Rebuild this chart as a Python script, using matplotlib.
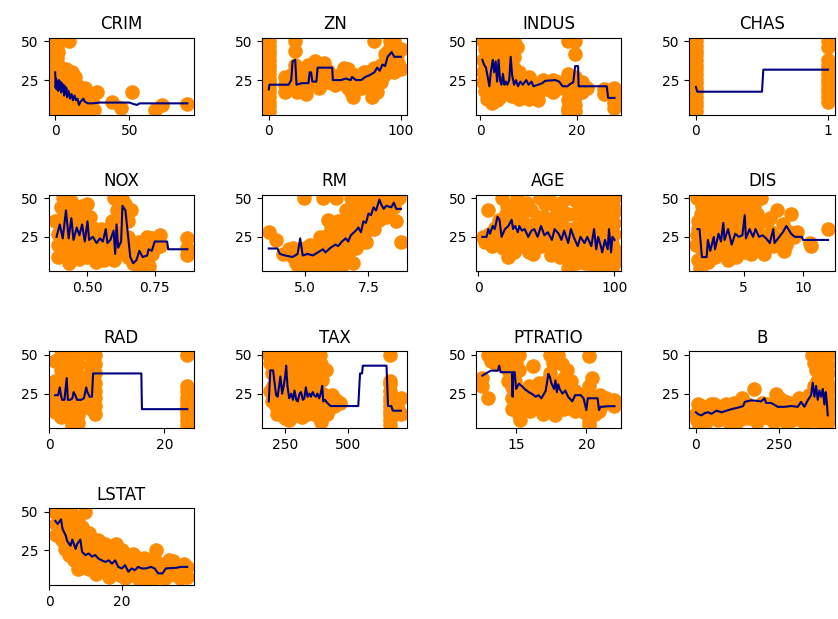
import matplotlib
matplotlib.use("Agg")
import matplotlib.pyplot as plt
from matplotlib.ticker import MaxNLocator

# --- values (feature value, MEDV) ---
features = ["CRIM", "ZN", "INDUS", "CHAS", "NOX", "RM", "AGE",
            "DIS", "RAD", "TAX", "PTRATIO", "B", "LSTAT"]

crim_pts = [(0, 5), (0, 9), (0, 13), (0, 17), (0, 21), (0, 25), (0, 29), (0, 33), (0, 37),
            (0, 41), (0, 45), (0, 50), (1, 7), (1, 15), (1, 23), (1, 31), (1, 39), (1, 47),
            (2, 11), (2, 19), (2, 27), (2, 35), (2, 43), (9.5, 50), (3.5, 8), (3.5, 16),
            (3.5, 24), (3.5, 32), (5, 12), (5, 20), (5, 28), (6, 6), (6.5, 16), (6.5, 24),
            (7, 32), (8, 10), (8, 19), (8.5, 27), (9.5, 6), (10, 15), (10, 23), (11, 30),
            (12, 10), (12, 19), (13, 27), (14, 6), (14, 14), (15, 22), (16, 10), (17, 17),
            (18, 6), (19, 12), (20, 20), (21, 8), (22, 14), (24, 7), (25, 12), (26, 6),
            (28, 17), (38, 11), (44, 7), (52, 17), (67, 6), (72, 9), (89, 9.5)]
crim_line = [(0.0, 30), (0.3, 20), (0.6, 26), (1, 19), (1.5, 24), (2, 18), (2.5, 25), (3, 19),
             (3.5, 24), (4, 17), (4.5, 23), (5, 18), (5.5, 22), (6, 15), (6.5, 21), (7, 16),
             (7.5, 20), (8, 14), (9, 18), (10, 13), (11, 16), (12, 12), (13, 15), (14, 12),
             (15, 13), (16, 9), (17, 11), (18, 12), (19, 13), (20, 11), (22, 10), (25, 10),
             (30, 10.5), (40, 10.5), (50, 10.5), (53, 9.5), (55, 9), (57, 10), (70, 10), (89, 10)]

zn_pts = [(0, 5), (0, 8), (0, 11), (0, 14), (0, 17), (0, 20), (0, 23), (0, 26), (0, 29),
          (0, 32), (0, 35), (0, 38), (0, 41), (0, 44), (0, 47), (0, 50), (12.5, 17),
          (12.5, 22), (12.5, 27), (15, 25), (17.5, 29), (20, 50), (20, 44), (20, 35),
          (20, 23), (21, 17), (22, 21), (25, 20), (25, 26), (27, 30), (28, 16), (30, 28),
          (30, 35), (33, 24), (34, 31), (35, 37), (35, 28), (38, 20), (40, 33), (40, 27),
          (42, 36), (45, 31), (45, 24), (48, 28), (50, 22), (52, 25), (55, 23), (55, 29),
          (57, 33), (60, 20), (60, 27), (60, 32), (62, 17), (64, 14), (65, 28), (67, 22),
          (70, 24), (70, 20), (72, 30), (75, 25), (75, 30), (77, 20), (78, 14), (80, 21),
          (80, 33), (80, 50), (82, 17), (82, 30), (85, 24), (85, 35), (87, 28), (88, 42),
          (90, 35), (90, 44), (92, 38), (92, 50), (95, 30), (95, 50), (97, 41), (98, 36),
          (100, 32), (100, 45)]
zn_line = [(0, 19), (0.5, 22), (15, 22), (17, 25), (18, 37), (20, 38), (21, 22), (25, 23),
           (30, 23), (31, 30), (32, 30), (33, 24), (36, 24), (37, 33), (48, 33), (48.5, 25),
           (55, 25), (58, 26), (62, 25), (63, 27), (66, 25), (70, 25), (73, 27), (76, 28),
           (80, 30), (82, 33), (84, 31), (86, 35), (88, 34), (90, 40), (93, 43), (95, 40),
           (100, 40)]

indus_pts = [(0.5, 50), (1, 45), (1.5, 50), (2, 50), (2.5, 50), (3, 50), (3.5, 50), (4, 50),
             (5, 50), (6, 50), (7, 50), (7.5, 46), (0.5, 38), (0.5, 30), (0.5, 24), (1, 33),
             (1, 26), (1, 18), (1.5, 38), (1.5, 13), (2, 30), (2, 22), (2, 18), (2.5, 42),
             (2.5, 10), (3, 35), (3, 25), (3, 17), (3.5, 30), (3.5, 12), (4, 40), (4, 22),
             (4, 14), (4.5, 45), (5, 36), (5, 28), (5, 18), (5.5, 25), (5.5, 42), (6, 40),
             (6, 30), (6, 21), (6.5, 15), (6.5, 47), (7, 33), (7, 24), (7, 18), (7, 40),
             (7.5, 28), (8, 20), (8, 13), (8, 30), (9, 25), (9, 16), (10, 27), (10, 19),
             (10, 13), (11, 23), (12, 17), (12, 12), (13, 25), (13.5, 19), (14, 22), (15, 25),
             (15, 17), (16, 20), (16, 24), (18.1, 50), (19.6, 50), (19.6, 42), (18.1, 29),
             (18.1, 23), (18.1, 17), (18.1, 12), (18.1, 7), (18.1, 5), (19.6, 27), (19.6, 20),
             (19.6, 14), (19.6, 9), (19.6, 5), (21, 17), (21, 24), (22, 20), (25.6, 19),
             (25.6, 16), (27.7, 20), (27.7, 15), (27.7, 10), (27.7, 7)]
indus_line = [(0.46, 38), (0.8, 35), (1.2, 33), (1.5, 28), (1.9, 21), (2.2, 30), (2.6, 38),
              (2.9, 30), (3.2, 37), (3.5, 24), (3.8, 38), (4.1, 25), (4.4, 22), (4.7, 29),
              (5, 22), (5.3, 24), (5.6, 22), (6, 25), (6.3, 40), (6.6, 28), (7, 22), (7.4, 25),
              (7.8, 21), (8.3, 24), (8.8, 22), (9.5, 25), (10, 22), (10.6, 24), (11, 21),
              (12, 22), (12.8, 23), (13.4, 24.5), (15.5, 25), (16.3, 24), (17, 21), (18, 21),
              (18.8, 23), (19.2, 23.5), (19.6, 34), (20.2, 34), (20.3, 21), (24, 21),
              (26.1, 21), (26.4, 13.5), (27.7, 13.5)]

chas_pts = [(0, 5), (0, 8), (0, 11), (0, 14), (0, 17), (0, 20), (0, 23), (0, 26), (0, 29),
            (0, 32), (0, 35), (0, 38), (0, 41), (0, 44), (0, 47), (0, 50), (1, 11), (1, 14),
            (1, 17), (1, 20), (1, 23), (1, 26), (1, 29), (1, 32), (1, 35), (1, 38), (1, 46),
            (1, 50)]
chas_line = [(0, 20.5), (0.01, 17.5), (0.5, 17.5), (0.51, 31.7), (1, 31.7)]

nox_pts = [(0.38, 35), (0.39, 12), (0.39, 20), (0.39, 27), (0.40, 33), (0.40, 44), (0.41, 50),
           (0.41, 42), (0.42, 23), (0.42, 37), (0.43, 15), (0.43, 8), (0.43, 29), (0.44, 48),
           (0.44, 40), (0.44, 20), (0.45, 33), (0.45, 24), (0.46, 17), (0.46, 25), (0.47, 41),
           (0.47, 11), (0.47, 28), (0.48, 22), (0.48, 45), (0.49, 14), (0.49, 35), (0.50, 46),
           (0.50, 26), (0.50, 12), (0.51, 19), (0.51, 38), (0.52, 31), (0.52, 23), (0.53, 15),
           (0.53, 9), (0.54, 27), (0.54, 20), (0.55, 24), (0.55, 30), (0.56, 17), (0.56, 10),
           (0.57, 22), (0.57, 27), (0.58, 30), (0.58, 13), (0.59, 19), (0.59, 35), (0.60, 50),
           (0.60, 10), (0.61, 42), (0.61, 22), (0.62, 15), (0.62, 28), (0.62, 38), (0.63, 50),
           (0.64, 46), (0.64, 20), (0.65, 25), (0.65, 12), (0.65, 35), (0.66, 17), (0.66, 42),
           (0.67, 8), (0.67, 22), (0.68, 14), (0.69, 22), (0.69, 5), (0.70, 12), (0.70, 20),
           (0.71, 17), (0.72, 10), (0.72, 25), (0.73, 6), (0.74, 24), (0.74, 14), (0.75, 18),
           (0.77, 26), (0.77, 19), (0.87, 24), (0.87, 18), (0.87, 13)]
nox_line = [(0.385, 25), (0.397, 33), (0.408, 24), (0.42, 42), (0.43, 24), (0.44, 37),
            (0.448, 23), (0.46, 31), (0.47, 26), (0.48, 33), (0.49, 22), (0.50, 35),
            (0.506, 23), (0.52, 25), (0.534, 21), (0.546, 24), (0.557, 22), (0.568, 30),
            (0.574, 21), (0.585, 23), (0.597, 29), (0.603, 14), (0.608, 33), (0.614, 18),
            (0.625, 22), (0.63, 45), (0.641, 42), (0.653, 22), (0.659, 12), (0.67, 8),
            (0.682, 10), (0.693, 16), (0.705, 12), (0.722, 13), (0.727, 17), (0.739, 16),
            (0.75, 22), (0.796, 22), (0.80, 17), (0.871, 17)]

rm_pts = [(3.56, 28), (3.86, 23), (4.14, 14), (4.37, 17), (4.5, 18), (4.52, 12), (4.63, 8),
          (4.7, 6), (4.88, 11), (4.97, 50), (5.0, 18), (5.0, 5), (5.1, 12), (5.2, 8), (5.2, 20),
          (5.3, 17), (5.4, 13), (5.4, 10), (5.5, 20), (5.5, 6), (5.5, 9), (5.6, 15), (5.6, 25),
          (5.7, 50), (5.7, 22), (5.8, 13), (5.8, 8), (5.9, 19), (5.9, 36), (5.9, 26), (6.0, 12),
          (6.0, 7), (6.0, 21), (6.0, 32), (6.1, 27), (6.1, 17), (6.2, 50), (6.2, 24), (6.2, 10),
          (6.3, 20), (6.3, 30), (6.3, 35), (6.4, 14), (6.4, 5), (6.4, 25), (6.5, 33), (6.5, 22),
          (6.5, 15), (6.6, 18), (6.6, 28), (6.6, 42), (6.7, 38), (6.7, 24), (6.7, 12),
          (6.8, 50), (6.8, 30), (6.9, 22), (6.9, 8), (6.9, 30), (7.0, 36), (7.0, 26), (7.0, 18),
          (7.1, 44), (7.1, 36), (7.2, 32), (7.2, 24), (7.3, 50), (7.3, 37), (7.4, 22),
          (7.4, 29), (7.4, 45), (7.5, 45), (7.6, 35), (7.6, 42), (7.7, 50), (7.7, 30),
          (7.8, 41), (7.9, 50), (7.9, 36), (8.0, 38), (8.0, 44), (8.1, 50), (8.2, 38),
          (8.3, 42), (8.3, 48), (8.4, 50), (8.5, 44), (8.6, 35), (8.7, 50), (8.78, 22)]
rm_line = [(3.56, 17.5), (3.9, 17.5), (4.0, 14), (4.2, 13), (4.5, 12), (4.7, 14), (4.8, 24),
           (4.9, 13), (5.1, 14), (5.3, 13), (5.5, 15), (5.7, 17), (5.8, 15), (6.0, 18),
           (6.2, 20), (6.3, 19), (6.45, 22), (6.6, 24), (6.7, 22), (6.8, 26), (7.0, 29),
           (7.1, 31), (7.2, 28), (7.3, 35), (7.4, 34), (7.5, 40), (7.6, 39), (7.7, 44),
           (7.8, 42), (7.93, 49), (8.0, 46), (8.1, 43), (8.2, 45), (8.4, 44), (8.5, 47),
           (8.6, 43), (8.78, 43)]

age_pts = [(3, 25), (5, 22), (7, 42), (8, 27), (10, 19), (12, 31), (14, 24), (15, 36),
           (17, 50), (18, 18), (20, 29), (20, 40), (21, 45), (22, 12), (23, 22), (25, 35),
           (26, 15), (27, 43), (28, 50), (29, 26), (30, 20), (31, 40), (32, 36), (33, 19),
           (34, 30), (35, 26), (36, 47), (37, 15), (38, 23), (39, 42), (40, 14), (41, 33),
           (42, 20), (43, 27), (44, 38), (45, 50), (46, 19), (47, 28), (48, 38), (49, 46),
           (50, 24), (51, 33), (52, 50), (53, 13), (54, 19), (55, 29), (56, 38), (57, 44),
           (58, 20), (59, 27), (60, 33), (60, 12), (61, 47), (62, 16), (63, 25), (64, 31),
           (65, 50), (66, 40), (66, 5), (67, 18), (68, 11), (69, 22), (70, 40), (71, 31),
           (72, 48), (72, 8), (73, 25), (74, 18), (75, 27), (75, 14), (76, 46), (77, 38),
           (78, 8), (78, 33), (79, 50), (80, 23), (81, 40), (82, 14), (82, 28), (83, 33),
           (84, 44), (85, 5), (85, 36), (86, 20), (86, 12), (87, 27), (88, 50), (88, 40),
           (88, 5), (89, 12), (90, 37), (90, 30), (91, 7), (91, 18), (92, 24), (93, 17),
           (93, 40), (94, 46), (94, 8), (95, 10), (95, 24), (96, 30), (97, 50), (97, 35),
           (98, 5), (98, 21), (99, 14), (99, 45), (100, 50), (100, 41), (100, 34), (100, 27),
           (100, 12), (100, 8), (100, 17)]
age_line = [(2.9, 25), (6, 25), (7.3, 30), (8.5, 27), (10.5, 32), (12, 30), (14, 38),
            (15.5, 36), (17, 25), (19.5, 30), (22, 32), (24.4, 36), (25.5, 30), (27, 32),
            (29, 28), (30, 32), (32, 29), (34, 30), (36.6, 25), (39, 29), (41, 30), (43.5, 25),
            (46, 32), (48.5, 26), (51, 28), (54, 23), (56, 30), (59, 27), (61, 23), (63, 29),
            (66, 21), (68, 30), (70, 25), (73, 19), (75, 25), (78, 21), (80, 25), (83, 19),
            (85, 30), (86.6, 17), (88, 25), (90, 19), (91, 15), (93, 23), (95, 17), (96, 30),
            (97.5, 15), (98.5, 25), (100, 23)]

dis_pts = [(1.0, 20), (1.1, 26), (1.1, 50), (1.2, 10), (1.2, 30), (1.2, 35), (1.3, 5),
           (1.4, 40), (1.4, 18), (1.5, 7), (1.5, 45), (1.6, 25), (1.7, 13), (1.7, 50),
           (1.8, 33), (1.9, 20), (2.0, 9), (2.0, 38), (2.1, 44), (2.2, 28), (2.3, 16),
           (2.3, 48), (2.4, 36), (2.5, 22), (2.6, 12), (2.6, 41), (2.7, 50), (2.8, 30),
           (2.9, 36), (3.0, 19), (3.1, 42), (3.2, 26), (3.3, 45), (3.4, 14), (3.4, 38),
           (3.5, 50), (3.6, 33), (3.7, 10), (3.8, 22), (3.9, 32), (4.0, 45), (4.1, 17),
           (4.2, 40), (4.3, 29), (4.4, 12), (4.5, 50), (4.6, 37), (4.6, 25), (4.8, 21),
           (5.0, 15), (5.0, 45), (5.2, 30), (5.3, 38), (5.4, 50), (5.5, 24), (5.6, 14),
           (5.7, 40), (5.9, 45), (6.0, 19), (6.1, 40), (6.2, 33), (6.4, 26), (6.5, 50),
           (6.7, 14), (6.9, 22), (7.0, 35), (7.2, 37), (7.3, 28), (7.5, 19), (7.7, 25),
           (7.8, 42), (8.0, 24), (8.3, 33), (8.4, 16), (8.6, 20), (8.8, 28), (9.0, 40),
           (9.2, 25), (9.5, 28), (10.6, 21), (10.7, 19), (12.1, 30)]
dis_line = [(1.13, 30), (1.3, 30), (1.5, 12), (1.9, 12), (2.0, 23), (2.2, 16), (2.5, 25),
            (2.6, 17), (2.9, 27), (3.1, 22), (3.3, 34), (3.4, 23), (3.7, 30), (4.0, 20),
            (4.3, 27), (4.6, 25), (4.9, 26), (5.1, 39), (5.2, 24), (5.5, 30), (5.8, 25),
            (6.0, 30), (6.3, 25), (6.6, 26), (6.9, 24), (7.2, 21), (7.5, 30), (7.6, 21),
            (8.0, 25), (8.3, 28), (8.6, 32), (9.0, 27), (9.3, 25), (9.9, 25), (10.0, 23),
            (12.1, 23)]

rad_pts = [(1, 13), (1, 17), (1, 21), (1, 25), (1, 29), (1, 33), (1, 46), (2, 10), (2, 14),
           (2, 19), (2, 24), (2, 29), (2, 34), (2, 40), (2, 46), (2, 50), (3, 12), (3, 17),
           (3, 22), (3, 27), (3, 33), (3, 38), (3, 44), (3, 50), (4, 5), (4, 9), (4, 14),
           (4, 19), (4, 24), (4, 29), (4, 35), (4, 42), (4, 50), (5, 6), (5, 11), (5, 16),
           (5, 21), (5, 26), (5, 31), (5, 37), (5, 44), (5, 50), (6, 17), (6, 21), (6, 25),
           (6, 30), (6, 35), (7, 16), (7, 21), (7, 26), (7, 33), (7, 43), (7, 50), (8, 12),
           (8, 17), (8, 22), (8, 27), (8, 32), (8, 38), (8, 44), (8, 50), (24, 5), (24, 8),
           (24, 11), (24, 14), (24, 17), (24, 20), (24, 23), (24, 27), (24, 30), (24, 50)]
rad_line = [(1, 24), (1.5, 24), (1.8, 29), (2, 24), (2.2, 21), (2.6, 21), (3, 35), (3.2, 21),
            (3.6, 21), (4, 22), (4.2, 26), (4.5, 24), (4.8, 21), (5, 21), (5.5, 21), (6, 22),
            (6.4, 29), (6.6, 26), (7, 23), (7.4, 23), (7.6, 38), (16, 38), (16.1, 15), (24, 15)]

tax_pts = [(188, 50), (190, 27), (193, 45), (198, 38), (200, 20), (202, 47), (205, 30),
           (210, 24), (212, 40), (215, 17), (218, 33), (220, 12), (224, 50), (226, 23),
           (230, 42), (233, 34), (235, 48), (237, 26), (240, 12), (242, 20), (245, 14),
           (248, 35), (250, 9), (252, 25), (254, 48), (256, 17), (258, 38), (262, 30),
           (264, 45), (266, 22), (268, 8), (270, 15), (273, 33), (276, 10), (278, 40),
           (280, 50), (284, 35), (287, 12), (289, 27), (293, 18), (296, 37), (298, 45),
           (300, 12), (302, 25), (304, 44), (307, 31), (309, 40), (311, 23), (315, 16),
           (318, 30), (320, 10), (324, 50), (326, 20), (330, 38), (333, 46), (335, 28),
           (338, 12), (341, 19), (344, 37), (345, 13), (348, 50), (352, 32), (356, 42),
           (358, 23), (362, 15), (366, 30), (368, 12), (370, 40), (375, 26), (377, 47),
           (380, 17), (384, 33), (385, 10), (388, 22), (391, 50), (395, 44), (395, 7),
           (398, 34), (400, 13), (403, 25), (406, 20), (411, 15), (413, 40), (416, 12),
           (420, 22), (425, 15), (430, 19), (437, 24), (445, 17), (455, 21), (469, 19),
           (666, 50), (666, 5), (666, 8), (666, 11), (666, 14), (666, 17), (666, 20),
           (666, 23), (666, 27), (666, 31), (666, 33), (689, 13), (689, 20), (701, 15),
           (711, 12), (711, 22)]
tax_line = [(187, 20), (193, 40), (204, 40), (210, 32), (216, 24), (222, 23), (228, 30),
            (233, 36), (240, 25), (246, 30), (252, 36), (256, 43), (261, 30), (268, 22),
            (276, 25), (283, 21), (289, 27), (296, 21), (302, 20), (309, 25), (315, 26),
            (322, 21), (328, 22), (334, 29), (341, 23), (348, 25), (354, 23), (361, 26),
            (367, 24), (374, 23), (380, 25), (387, 22), (393, 25), (399, 30), (403, 20),
            (410, 21), (419, 19), (432, 17), (542, 17), (549, 38), (557, 38), (560, 43),
            (654, 43), (660, 17), (673, 17), (679, 14), (711, 14)]

ptratio_pts = [(12.6, 30), (12.6, 35), (13.0, 22), (13.0, 50), (13.2, 46), (13.6, 44),
               (13.6, 50), (13.9, 48), (14.4, 50), (14.4, 40), (14.4, 33), (14.7, 44),
               (14.7, 37), (14.7, 29), (14.7, 22), (14.7, 15), (14.9, 33), (15.0, 45),
               (15.2, 50), (15.2, 40), (15.2, 26), (15.2, 18), (15.2, 11), (15.3, 8),
               (15.5, 25), (15.6, 20), (15.8, 17), (15.9, 30), (16.0, 14), (16.2, 43),
               (16.3, 20), (16.4, 25), (16.6, 17), (16.6, 32), (16.8, 28), (16.9, 22),
               (16.9, 12), (17.2, 33), (17.2, 15), (17.4, 50), (17.4, 38), (17.4, 25),
               (17.6, 45), (17.6, 30), (17.6, 16), (17.8, 32), (17.8, 20), (17.8, 11),
               (18.0, 50), (18.0, 27), (18.2, 21), (18.3, 44), (18.4, 35), (18.4, 15),
               (18.6, 40), (18.6, 22), (18.7, 30), (18.9, 33), (19.0, 25), (19.1, 20),
               (19.2, 27), (19.2, 14), (19.3, 17), (19.6, 19), (19.7, 24), (19.8, 13),
               (20.1, 19), (20.2, 49), (20.2, 30), (20.2, 25), (20.2, 20), (20.2, 15),
               (20.2, 10), (20.2, 7), (20.2, 5), (20.4, 35), (20.6, 12), (20.9, 14),
               (21.0, 20), (21.0, 24), (21.2, 18), (21.4, 22), (22.0, 17), (22.0, 21)]
ptratio_line = [(12.6, 36.6), (12.85, 38), (13.2, 39.8), (13.7, 39.8), (13.8, 43), (13.9, 38.8),
                (14.7, 38.8), (14.75, 23), (14.8, 38.8), (14.9, 38.8), (15.0, 28), (15.2, 31.4),
                (15.4, 30), (15.6, 28), (15.9, 26), (16.1, 25), (16.4, 23), (16.6, 24),
                (16.8, 22), (17.1, 26.7), (17.3, 37.7), (17.4, 36), (17.5, 32), (17.7, 28),
                (17.8, 33.5), (17.9, 26), (18.0, 31), (18.1, 28), (18.3, 25), (18.5, 27),
                (18.7, 23), (19.0, 20), (19.2, 24), (19.6, 24), (19.8, 22), (20.0, 14.4),
                (20.1, 22), (20.8, 22), (20.9, 14.4), (21.0, 16.5), (21.6, 16.9), (22.0, 16.9)]

b_pts = [(0.3, 12), (3, 8), (5, 18), (7, 14), (10, 5), (15, 6), (17, 17), (22, 10), (25, 13),
         (30, 7), (35, 9), (40, 14), (45, 18), (50, 11), (55, 18), (60, 15), (65, 8), (70, 13),
         (75, 9), (80, 17), (85, 10), (90, 18), (95, 12), (100, 7), (105, 10), (110, 15),
         (115, 19), (120, 11), (125, 7), (130, 17), (135, 13), (140, 22), (145, 9), (150, 13),
         (155, 18), (160, 9), (170, 12), (176, 28), (180, 15), (185, 7), (190, 12), (195, 16),
         (200, 19), (205, 10), (210, 14), (215, 18), (220, 9), (230, 13), (235, 7), (240, 25),
         (245, 16), (250, 22), (255, 10), (260, 16), (265, 20), (270, 12), (275, 6), (280, 19),
         (285, 14), (290, 8), (295, 19), (300, 15), (305, 9), (310, 22), (315, 17), (320, 11),
         (325, 6), (330, 17), (335, 13), (340, 24), (342, 18), (345, 8), (348, 25), (350, 50),
         (352, 15), (355, 30), (355, 45), (358, 8), (360, 20), (362, 40), (363, 33), (365, 10),
         (367, 14), (368, 26), (370, 50), (371, 42), (372, 16), (374, 22), (375, 35), (377, 28),
         (378, 7), (379, 12), (380, 22), (382, 45), (383, 35), (384, 13), (385, 6), (386, 29),
         (387, 40), (388, 50), (389, 24), (390, 18), (391, 38), (392, 5), (392, 46), (393, 24),
         (394, 33), (394, 14), (395, 10), (396, 44), (396, 15), (396, 30), (396.9, 50),
         (396.9, 38), (396.9, 28), (396.9, 20), (396.9, 14), (396.9, 7)]
b_line = [(0.3, 13), (7, 11.7), (17, 11), (27, 12.5), (37, 13), (47, 12), (62, 14), (77, 13),
          (92, 14), (107, 15), (127, 16), (142, 17), (147, 19.7), (167, 20.7), (196, 20),
          (206, 22), (211, 19), (226, 19), (246, 16.5), (266, 16.5), (286, 17), (306, 16.5),
          (316, 19.7), (326, 16.5), (336, 20.7), (346, 24), (351, 32), (356, 23), (361, 30),
          (366, 21), (371, 27), (376, 23), (381, 28), (386, 18), (390, 26), (393, 20), (396, 11)]

lstat_pts = [(1.7, 50), (2, 35), (2, 42), (2.5, 43), (3, 50), (3, 38), (3.5, 32), (4, 47),
             (4, 40), (4.5, 26), (5, 40), (5, 33), (5, 48), (5.5, 22), (6, 50), (6, 27),
             (6.5, 33), (7, 19), (7, 37), (7.5, 28), (7.5, 22), (8, 13), (8, 44), (8.5, 23),
             (9, 31), (9, 40), (9, 20), (9.5, 16), (10, 50), (10, 26), (10, 14), (10.5, 20),
             (11, 13), (11, 36), (11.5, 30), (12, 22), (12, 28), (12.5, 17), (13, 10), (13, 18),
             (13.5, 32), (14, 24), (14, 30), (14.5, 19), (15, 13), (15, 22), (15.5, 29),
             (16, 21), (16, 15), (16.5, 8), (17, 16), (17, 27), (17.5, 26), (18, 13), (18, 21),
             (18.5, 29), (19, 19), (19, 11), (19.5, 9), (20, 15), (20, 25), (20.5, 22), (21, 7),
             (21, 17), (21.5, 12), (22, 18), (22, 10), (23, 9), (23, 23), (23.5, 15), (24, 21),
             (24, 16), (24.5, 11), (25, 5), (25, 12), (26, 14), (26, 20), (27, 10), (27, 15),
             (27.5, 18), (28, 6), (28, 12), (29, 13), (29, 19), (29.5, 25), (30, 8), (30, 14),
             (31, 12), (31, 8), (32, 7), (32, 16), (33, 19), (33, 12), (34, 10), (34, 18),
             (35, 14), (35, 9), (36, 7), (36, 13), (37, 11), (37, 16), (38, 14), (38, 8)]
lstat_line = [(1.73, 44), (2.4, 42), (3.3, 45), (3.7, 39), (4.6, 34.5), (5.0, 31), (5.9, 28),
              (6.4, 32), (7.3, 26), (7.7, 29), (8.6, 32), (9.1, 24), (10.0, 22), (10.9, 23),
              (11.8, 21), (12.7, 22), (13.6, 19.7), (14.5, 18.6), (15.5, 17.6), (16.4, 18.6),
              (17.3, 16.5), (18.2, 18.6), (19.0, 14.4), (20.0, 13.4), (20.9, 15.5), (21.8, 11.3),
              (22.7, 13.4), (23.6, 12.3), (24.5, 14.4), (25.4, 13.4), (26.7, 13.4), (28.0, 14.4),
              (29.0, 13.4), (30.0, 10.2), (31.2, 10.2), (32.1, 13.4), (35.0, 13.8), (36.2, 14.4),
              (37.97, 14.4)]

points = {"CRIM": crim_pts, "ZN": zn_pts, "INDUS": indus_pts, "CHAS": chas_pts,
          "NOX": nox_pts, "RM": rm_pts, "AGE": age_pts, "DIS": dis_pts, "RAD": rad_pts,
          "TAX": tax_pts, "PTRATIO": ptratio_pts, "B": b_pts, "LSTAT": lstat_pts}
lines = {"CRIM": crim_line, "ZN": zn_line, "INDUS": indus_line, "CHAS": chas_line,
         "NOX": nox_line, "RM": rm_line, "AGE": age_line, "DIS": dis_line, "RAD": rad_line,
         "TAX": tax_line, "PTRATIO": ptratio_line, "B": b_line, "LSTAT": lstat_line}

# --- Plot ---
fig, axes = plt.subplots(4, 4, figsize=(8.38, 6.19))
for ax, name in zip(axes.flat, features):
    px, py = zip(*points[name])
    lx, ly = zip(*lines[name])
    ax.scatter(px, py, s=90, color="darkorange")
    ax.plot(lx, ly, color="navy")
    ax.set_title(name)
    ax.set_ylim(2.75, 52.25)
    ax.xaxis.set_major_locator(MaxNLocator(2, steps=[1, 2, 2.5, 5, 10]))
    ax.yaxis.set_major_locator(MaxNLocator(2, steps=[1, 2, 2.5, 5, 10]))

for ax in axes.flat[len(features):]:
    fig.delaxes(ax)

fig.subplots_adjust(left=0.058, right=0.996, top=0.939, bottom=0.055,
                    wspace=0.47, hspace=1.04)
fig.savefig("out.png", dpi=100)
